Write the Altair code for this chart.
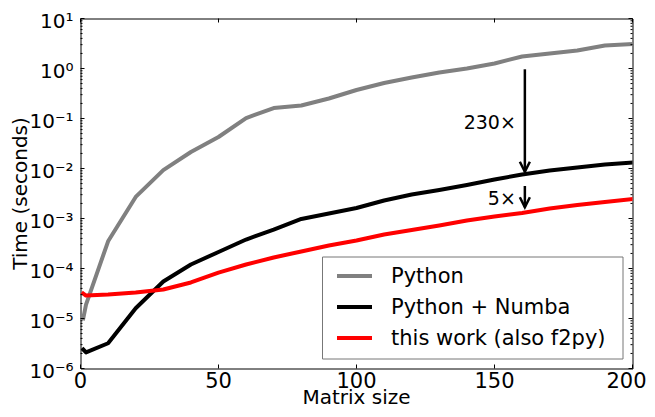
import altair as alt
import pandas as pd

# ---------------- data ----------------
sizes = [1, 2, 10, 20, 30, 40, 50, 60, 70, 80, 90, 100, 110, 120, 130, 140, 150, 160, 170, 180, 190, 200]
python_time = [1.0e-5, 1.9e-5, 3.5e-4, 2.7e-3, 9.3e-3, 0.0214, 0.0427, 0.102, 0.162, 0.182, 0.251,
               0.372, 0.513, 0.661, 0.832, 1.0, 1.26, 1.74, 2.0, 2.29, 2.88, 3.09]
numba_time = [2.4e-6, 2.1e-6, 3.2e-6, 1.6e-5, 5.5e-5, 1.2e-4, 2.14e-4, 3.8e-4, 6.0e-4, 9.8e-4, 1.26e-3,
              1.62e-3, 2.29e-3, 3.02e-3, 3.72e-3, 4.68e-3, 6.03e-3, 7.59e-3, 9.12e-3, 1.05e-2, 1.2e-2, 1.32e-2]
work_time = [3.16e-5, 2.88e-5, 3.02e-5, 3.31e-5, 3.8e-5, 5.25e-5, 8.3e-5, 1.2e-4, 1.66e-4, 2.19e-4, 2.88e-4,
             3.63e-4, 4.79e-4, 5.89e-4, 7.24e-4, 9.12e-4, 1.1e-3, 1.29e-3, 1.58e-3, 1.86e-3, 2.14e-3, 2.45e-3]

series_names = ["Python", "Python + Numba", "this work (also f2py)"]
series_colors = ["#808080", "#000000", "#ff0000"]

arrow_x = [161, 161]
arrow_from = [0.964, 4.47e-3]
arrow_to = [8.63e-3, 1.675e-3]
arrow_label = ["230×", "5×"]
arrow_label_y = [0.082, 2.48e-3]

x_major = [0, 50, 100, 150, 200]
x_tick_labels = ["0", "50", "100", "150", "200"]
y_major = [1e-6, 1e-5, 1e-4, 1e-3, 1e-2, 1e-1, 1e0, 1e1]
y_minor = [m * 10.0 ** k for k in range(-6, 1) for m in range(2, 10)]
y_tick_labels = ["10⁻⁶", "10⁻⁵", "10⁻⁴", "10⁻³", "10⁻²", "10⁻¹", "10⁰", "10¹"]
x_title = "Matrix size"
y_title = "Time (seconds)"

# ---------------- layout ----------------
W, H = 552, 350
FONT = "DejaVu Sans"

rows = []
for name, vals in zip(series_names, [python_time, numba_time, work_time]):
    for i, (s, v) in enumerate(zip(sizes, vals)):
        rows.append({"size": s, "time": v, "series": name, "idx": i})
df = pd.DataFrame(rows)

xscale = alt.Scale(domain=[0, 200], nice=False, zero=False)
yscale = alt.Scale(type="log", domain=[1e-6, 10], nice=False)


def X(field):
    return alt.X(field, scale=xscale, axis=None)


def Y(field):
    return alt.Y(field, scale=yscale, axis=None)


lines = alt.Chart(df).mark_line(strokeWidth=4, clip=True, strokeJoin="round", strokeCap="square").encode(
    x=X("size:Q"),
    y=Y("time:Q"),
    color=alt.Color("series:N", scale=alt.Scale(domain=series_names, range=series_colors), legend=None),
    order=alt.Order("idx:Q"),
)

ymaj_df = pd.DataFrame({"v": y_major, "label": y_tick_labels})
ymin_df = pd.DataFrame({"v": y_minor})
xmaj_df = pd.DataFrame({"v": x_major, "label": x_tick_labels})


def ytick(data, x0, x1):
    return alt.Chart(data).mark_rule(color="black", strokeWidth=1).encode(
        y=Y("v:Q"), x=alt.value(x0), x2=alt.value(x1))


def xtick(data, y0, y1):
    return alt.Chart(data).mark_rule(color="black", strokeWidth=1).encode(
        x=X("v:Q"), y=alt.value(y0), y2=alt.value(y1))


ticks = [
    ytick(ymaj_df, 0, 4), ytick(ymin_df, 0, 2),
    ytick(ymaj_df, W - 4, W), ytick(ymin_df, W - 2, W),
    xtick(xmaj_df, 0, 4), xtick(xmaj_df, H - 4, H),
]

# tick labels drawn as text marks
ylabels = alt.Chart(ymaj_df).mark_text(align="right", baseline="middle", fontSize=20, font=FONT,
                                       color="black", dy=3).encode(
    y=Y("v:Q"), x=alt.value(-7), text="label:N")
xlabels = alt.Chart(xmaj_df.iloc[:-1]).mark_text(align="center", baseline="top", fontSize=21, font=FONT,
                                                 color="black").encode(
    x=X("v:Q"), y=alt.value(H + 2.5), text="label:N")
xlabel_last = alt.Chart(xmaj_df.iloc[-1:]).mark_text(align="center", baseline="top", fontSize=21, font=FONT,
                                                     color="black", dx=-6).encode(
    x=X("v:Q"), y=alt.value(H + 2.5), text="label:N")

titles_df = pd.DataFrame({"xt": [x_title], "yt": [y_title]})
xtitle = alt.Chart(titles_df).mark_text(align="center", baseline="alphabetic", fontSize=20, font=FONT,
                                        color="black").encode(
    x=alt.value(W / 2), y=alt.value(H + 35.5), text="xt:N")
ytitle = alt.Chart(titles_df).mark_text(align="center", baseline="alphabetic", fontSize=20, font=FONT,
                                        color="black", angle=270).encode(
    x=alt.value(-53.5), y=alt.value(H / 2), text="yt:N")

# arrows and their labels
arr_df = pd.DataFrame({"ax": arrow_x, "y0": arrow_from, "y1": arrow_to,
                       "label": arrow_label, "ly": arrow_label_y})

shafts = alt.Chart(arr_df).mark_rule(color="black", strokeWidth=2.5).encode(
    x=X("ax:Q"), y=Y("y0:Q"), y2="y1:Q")
heads = alt.Chart(arr_df).mark_point(shape="M-0.5,-1L0,0L0.5,-1", size=400, filled=False,
                                     strokeWidth=2.5, color="black", opacity=1).encode(
    x=X("ax:Q"), y=Y("y1:Q"))
texts = alt.Chart(arr_df).mark_text(align="right", baseline="middle", fontSize=19, font=FONT,
                                    color="black", dx=-9).encode(
    x=X("ax:Q"), y=Y("ly:Q"), text="label:N")

# manual legend (matplotlib style box)
legend_box = alt.Chart(titles_df).mark_rect(fill="white", stroke="#777777", strokeWidth=1).encode(
    x=alt.value(242), x2=alt.value(542.5), y=alt.value(238.5), y2=alt.value(340.5))
legend_layers = [legend_box]
for i, (name, col) in enumerate(zip(series_names, series_colors)):
    ydf = pd.DataFrame({"name": [name]})
    yy = 257.5 + 31 * i
    legend_layers.append(alt.Chart(ydf).mark_rule(color=col, strokeWidth=4).encode(
        x=alt.value(256.5), x2=alt.value(291.5), y=alt.value(yy)))
    legend_layers.append(alt.Chart(ydf).mark_text(align="left", baseline="middle", fontSize=21, font=FONT,
                                                  color="black", dy=1).encode(
        x=alt.value(310.5), y=alt.value(yy), text="name:N"))

chart = alt.layer(lines, *ticks, ylabels, xlabels, xlabel_last, xtitle, ytitle,
                  shafts, heads, texts, *legend_layers).properties(
    width=W, height=H,
    padding={"left": 72.5, "top": 10.5, "right": 14.5, "bottom": 40.5},
    autosize=alt.AutoSizeParams(type="none"),
    background="white",
).configure_view(
    stroke="black", strokeWidth=1,
)

chart.save("out.html", embed_options={"renderer": "svg", "actions": False})
